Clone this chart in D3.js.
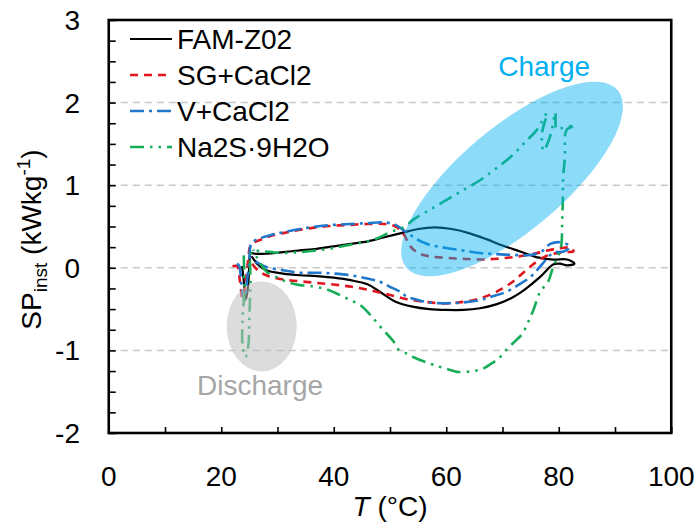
<!DOCTYPE html>
<html>
<head>
<meta charset="utf-8">
<script src="https://cdn.jsdelivr.net/npm/d3@7"></script>
<style>
  html, body { margin: 0; padding: 0; background: #fff; }
  svg { display: block; font-family: "Liberation Sans", Arial, sans-serif; }
</style>
</head>
<body>
<svg id="chart" width="698" height="523"></svg>
<script>
// Instantaneous specific power vs. temperature, one loop per material: [T (°C), SP (kW/kg)]
const famZ02 = [
  [23.7,0.02],[24.0,-0.15],[24.4,-0.38],[24.8,-0.2],[25.0,0.05],[25.2,0.18],[26,0.17],[28,0.17],
  [31,0.19],[34,0.21],[37,0.23],[40,0.26],[43,0.29],[46,0.32],[49,0.37],[52,0.42],[55,0.47],
  [58,0.49],[61,0.47],[64,0.42],[67,0.35],[70,0.27],[73,0.2],[76,0.13],[79,0.1],[81.5,0.1],
  [82.8,0.05],[81.5,0.03],[80.2,0.05],[79,0.04],[76.7,-0.11],[74,-0.26],[72,-0.35],[69,-0.44],
  [66,-0.49],[63,-0.51],[60,-0.51],[57,-0.5],[54,-0.47],[51,-0.41],[48.2,-0.29],[46,-0.2],
  [43,-0.15],[40,-0.12],[37,-0.1],[34,-0.09],[31,-0.07],[28,-0.03],[26.5,0.04],[25.4,0.14]
];
const sgCaCl2 = [
  [22.0,0.02],[22.8,0.02],[23.3,-0.15],[23.8,-0.38],[24.3,-0.2],[24.8,0.1],[25.3,0.28],[27,0.34],
  [29,0.39],[31,0.42],[34,0.46],[37,0.49],[40,0.51],[43,0.52],[46,0.53],[49,0.53],[51,0.5],
  [52.5,0.4],[53.5,0.27],[55,0.18],[57,0.14],[60,0.12],[63,0.11],[66,0.1],[69,0.11],[72,0.13],
  [75,0.16],[78,0.21],[80.5,0.24],[82.3,0.24],[82.6,0.2],[81.5,0.19],[80,0.18],[78,0.15],[76,0.07],
  [74,-0.04],[72,-0.16],[70,-0.25],[68,-0.32],[65,-0.39],[62,-0.42],[59,-0.43],[56,-0.41],
  [53,-0.38],[50,-0.33],[47,-0.28],[44,-0.24],[41,-0.21],[38,-0.19],[35,-0.17],[32,-0.15],
  [30,-0.13],[28,-0.09],[26.5,-0.03],[25.5,0.05]
];
const vCaCl2 = [
  [22.8,0.05],[23.2,0.02],[23.6,-0.2],[24.1,-0.4],[24.6,-0.15],[25.0,0.1],[25.4,0.3],[27,0.36],
  [29,0.4],[31,0.43],[34,0.47],[37,0.5],[40,0.52],[43,0.53],[46,0.54],[49,0.55],[51,0.52],
  [52.5,0.45],[54,0.38],[55.5,0.32],[57,0.28],[60,0.24],[63,0.21],[66,0.18],[69,0.165],[72,0.155],
  [75,0.155],[77,0.2],[78.5,0.29],[80.2,0.31],[82,0.26],[81,0.2],[79,0.18],[77,0.04],[75,-0.11],
  [73,-0.2],[70.7,-0.29],[68,-0.35],[66,-0.39],[63,-0.42],[60,-0.43],[57,-0.42],[55,-0.39],
  [53,-0.35],[51.8,-0.29],[50,-0.23],[48.2,-0.17],[46,-0.13],[43,-0.09],[40,-0.07],[37,-0.06],
  [34,-0.06],[31,-0.03],[28,0.01],[26.5,0.06],[25.4,0.115]
];
const na2s9h2o = [
  [24.0,0.15],[24.1,-0.3],[23.8,-0.6],[23.8,-0.95],[24.3,-1.08],[24.8,-0.95],[25.0,-0.6],[25.2,-0.2],
  [25.5,0.2],[27,0.2],[29,0.19],[31,0.18],[34,0.19],[37,0.21],[40,0.24],[43,0.28],[46,0.32],
  [48.2,0.37],[50,0.43],[52.7,0.5],[54.1,0.58],[57,0.7],[60,0.82],[63,0.94],[66,1.06],[69,1.21],
  [71.9,1.37],[74,1.52],[76.1,1.67],[77.9,1.87],[77.0,1.62],[77.3,1.42],[78.6,1.62],[79.4,1.88],
  [79.6,1.68],[80.4,1.69],[82.9,1.72],[81.4,1.67],[81.1,1.35],[80.8,1.1],[80.7,0.74],[80.6,0.54],
  [80.5,0.3],[80.2,0.2],[79,0.01],[78.1,-0.17],[76.7,-0.29],[75.5,-0.51],[74.6,-0.65],[73.4,-0.81],
  [72.2,-0.89],[71,-0.97],[69.3,-1.1],[68,-1.16],[66.6,-1.22],[64.8,-1.25],[61.9,-1.26],[60.4,-1.23],
  [58.9,-1.2],[57.1,-1.16],[54.1,-1.08],[53,-1.04],[51.5,-0.99],[50.6,-0.89],[48.5,-0.73],
  [46.5,-0.57],[44.7,-0.45],[42.9,-0.39],[41.1,-0.33],[38.7,-0.26],[35.8,-0.22],[34,-0.21],
  [31.6,-0.17],[30.4,-0.13],[28.1,-0.05],[26.3,0.13],[25.7,0.22]
];

const seriesNames = ["FAM-Z02", "SG+CaCl2", "V+CaCl2", "Na2S·9H2O"];
const xTickLabels = [0, 20, 40, 60, 80, 100];
const yTickLabels = [-2, -1, 0, 1, 2, 3];
const gridValues = [-1, 0, 1, 2];

// Appearance of each series (colour, dash pattern)
const styles = [
  { color: "#000000", dash: null },
  { color: "#e0161e", dash: "8,6" },
  { color: "#1f78cc", dash: "14,5,3,5" },
  { color: "#17ad58", dash: "14,6,2.5,6,2.5,6" }
];
const seriesData = [famZ02, sgCaCl2, vCaCl2, na2s9h2o];

const svg = d3.select("#chart");
const plotLeft = 108.75, plotRight = 671.25, plotTop = 20, plotBottom = 433;

const x = d3.scaleLinear().domain([0, 100]).range([plotLeft, plotRight]);
const y = d3.scaleLinear().domain([-2, 3]).range([plotBottom, plotTop]);

// dashed horizontal gridlines
svg.append("g").selectAll("line").data(gridValues).join("line")
  .attr("x1", plotLeft).attr("x2", plotRight)
  .attr("y1", d => y(d)).attr("y2", d => y(d))
  .attr("stroke", "#c8c8c8").attr("stroke-width", 1.5)
  .attr("stroke-dasharray", "7,5");

// series loops
const line = d3.line()
  .x(d => x(d[0])).y(d => y(d[1]))
  .curve(d3.curveCatmullRom.alpha(0.5));

const plot = svg.append("g");
seriesData.forEach((data, i) => {
  plot.append("path")
    .datum(data)
    .attr("d", line)
    .attr("fill", "none")
    .attr("stroke", styles[i].color)
    .attr("stroke-width", i === 0 ? 2.2 : 2.6)
    .attr("stroke-dasharray", styles[i].dash)
    .attr("stroke-linejoin", "round");
});

// highlighted regions
svg.append("ellipse")
  .attr("transform", `translate(${x(71.7)},${y(1.075)}) rotate(-40)`)
  .attr("rx", 138).attr("ry", 52)
  .attr("fill", "#00b0f0").attr("fill-opacity", 0.45);

svg.append("ellipse")
  .attr("cx", x(27.2)).attr("cy", y(-0.71))
  .attr("rx", 35).attr("ry", 45)
  .attr("fill", "#bfbfbf").attr("fill-opacity", 0.55);

svg.append("text")
  .attr("x", x(77.4)).attr("y", y(2.32))
  .attr("text-anchor", "middle")
  .attr("font-size", 28).attr("fill", "#00b0f0")
  .text("Charge");

svg.append("text")
  .attr("x", x(26.9)).attr("y", y(-1.54))
  .attr("text-anchor", "middle")
  .attr("font-size", 28).attr("fill", "#a6a6a6")
  .text("Discharge");

// axes: inward ticks, labels on major values
const xAxis = svg.append("g").attr("transform", `translate(0,${plotBottom})`)
  .call(d3.axisBottom(x).tickValues(d3.range(0, 101, 10)).tickSize(-6).tickFormat(""));
const yAxis = svg.append("g").attr("transform", `translate(${plotLeft},0)`)
  .call(d3.axisLeft(y).tickValues(d3.range(-2, 3.001, 0.25)).tickSize(-7).tickFormat(""));
[xAxis, yAxis].forEach(g => {
  g.select(".domain").remove();
  g.selectAll(".tick line").attr("stroke", "#000").attr("stroke-width", 1.6);
});

svg.append("g").selectAll("text").data(xTickLabels).join("text")
  .attr("x", d => x(d)).attr("y", 486)
  .attr("text-anchor", "middle").attr("font-size", 28).attr("fill", "#000")
  .text(d => d);

svg.append("g").selectAll("text").data(yTickLabels).join("text")
  .attr("x", 80).attr("y", d => y(d) + 10)
  .attr("text-anchor", "end").attr("font-size", 28).attr("fill", "#000")
  .text(d => d);

// plot frame
svg.append("rect")
  .attr("x", plotLeft).attr("y", plotTop)
  .attr("width", plotRight - plotLeft).attr("height", plotBottom - plotTop)
  .attr("fill", "none").attr("stroke", "#000").attr("stroke-width", 2.6);

// axis titles
const xt = svg.append("text")
  .attr("x", (plotLeft + plotRight) / 2).attr("y", 516)
  .attr("text-anchor", "middle").attr("font-size", 28).attr("fill", "#000");
xt.append("tspan").attr("font-style", "italic").text("T");
xt.append("tspan").text(" (°C)");

const yt = svg.append("text")
  .attr("transform", `translate(41,${(plotTop + plotBottom) / 2 + 13}) rotate(-90)`)
  .attr("text-anchor", "middle").attr("font-size", 28).attr("fill", "#000");
yt.append("tspan").text("SP");
yt.append("tspan").attr("font-size", 19).attr("dy", 6).text("inst");
yt.append("tspan").attr("dy", -6).text(" (kWkg");
yt.append("tspan").attr("font-size", 19).attr("dy", -11).text("-1");
yt.append("tspan").attr("dy", 11).text(")");

// legend
const legend = svg.append("g");
seriesNames.forEach((name, i) => {
  const ly = 39 + i * 36;
  legend.append("line")
    .attr("x1", 130).attr("x2", 172).attr("y1", ly).attr("y2", ly)
    .attr("stroke", styles[i].color).attr("stroke-width", i === 0 ? 2.2 : 2.6)
    .attr("stroke-dasharray", styles[i].dash);
  legend.append("text")
    .attr("x", 177).attr("y", ly + 10)
    .attr("font-size", 28).attr("fill", "#000")
    .text(name);
});
</script>
</body>
</html>
